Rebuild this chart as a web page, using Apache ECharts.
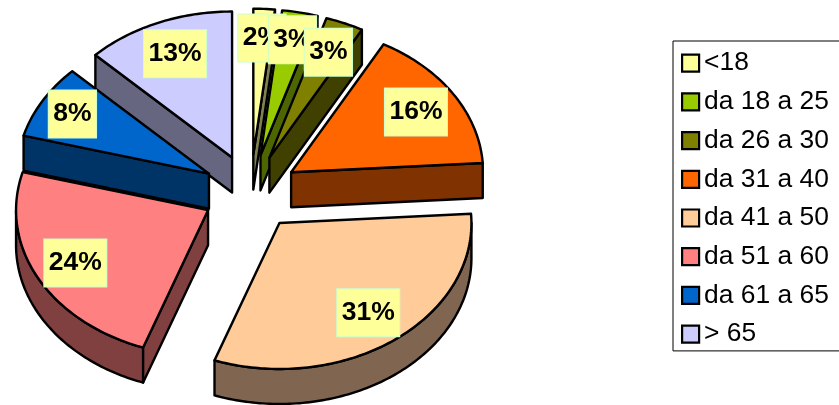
<!DOCTYPE html>
<html><head><meta charset="utf-8">
<style>html,body{margin:0;padding:0;background:#fff}#c{width:839px;height:405px}</style>
<script src="https://cdn.jsdelivr.net/npm/echarts@6/dist/echarts.min.js"></script>
</head><body><div id="c"></div>
<script>
const categories = ['<18','da 18 a 25','da 26 a 30','da 31 a 40','da 41 a 50','da 51 a 60','da 61 a 65','> 65'];
const values = [1.8,3.0,3.2,16.0,31.49,23.7,8.2,12.61];
const topColors = ['#FFFF99','#99CC00','#808000','#FF6600','#FFCC99','#FF8080','#0066CC','#CCCCFF'];
const sideColors = ['#808050','#4D6600','#404000','#803300','#806650','#804040','#003366','#666680'];
const paintOrder = [0,1,2,7,6,3,5,4];
const labelRadius = [0.80,0.81,0.785,0.77,0.77,0.78,0.82,0.77];

const CX=250.6, CY=192.6, RX=192, RY=146, EX=48, EY=38, DEPTH=35;
const total = values.reduce((a,b)=>a+b,0);
const starts=[]; let acc=0;
values.forEach(v=>{starts.push(acc/total*360); acc+=v;});
const rad=d=>d*Math.PI/180;
function geom(i){
  const a0=starts[i], a1=a0+values[i]/total*360, mid=(a0+a1)/2;
  const ax=CX+EX*Math.sin(rad(mid)), ay=CY-EY*Math.cos(rad(mid));
  const rim=d=>[ax+RX*Math.sin(rad(d)), ay-RY*Math.cos(rad(d))];
  return {a0,a1,mid,ax,ay,rim};
}
const LW=2.4;
function poly(points,fill){
  return {type:'polygon',shape:{points},style:{fill,stroke:'#000',lineWidth:LW,lineJoin:'round'},silent:true};
}
function sliceRender(i){
  return function(){
    const g=geom(i), ch=[], down=p=>[p[0],p[1]+DEPTH];
    const apex=[g.ax,g.ay];
    const arcFrom=Math.max(g.a0,90), arcTo=Math.min(g.a1,270);
    if(arcTo>arcFrom){
      const up=[],lo=[];
      for(let d=arcFrom;d<arcTo;d+=1){up.push(g.rim(d));}
      up.push(g.rim(arcTo));
      up.forEach(p=>lo.unshift(down(p)));
      ch.push(poly(up.concat(lo),sideColors[i]));
    }
    if(Math.sin(rad(g.a1))>0){const r=g.rim(g.a1);ch.push(poly([apex,r,down(r),down(apex)],sideColors[i]));}
    if(Math.sin(rad(g.a0))<0){const r=g.rim(g.a0);ch.push(poly([apex,r,down(r),down(apex)],sideColors[i]));}
    const pts=[apex];
    for(let d=g.a0;d<g.a1;d+=1)pts.push(g.rim(d));
    pts.push(g.rim(g.a1));
    ch.push(poly(pts,topColors[i]));
    return {type:'group',children:ch};
  };
}
function labelRender(params,api){
  const i=api.value(0), g=geom(i), R=labelRadius[i];
  const x=g.ax+R*RX*Math.sin(rad(g.mid)), y=g.ay-R*RY*Math.cos(rad(g.mid));
  return {type:'text',x,y,silent:true,style:{
    text:Math.round(values[i])+'%',font:'bold 26.5px "Liberation Sans"',fill:'#000',
    align:'center',verticalAlign:'middle',backgroundColor:'#FFFF99',borderColor:'#CCFFCC',borderWidth:1,
    padding:[10,4.5,10,4.5]}};
}
const series=categories.map((name,i)=>({
  type:'custom',name,coordinateSystem:'none',data:[[values[i]]],
  z:2+paintOrder.indexOf(i),silent:true,animation:false,
  itemStyle:{color:topColors[i]},renderItem:sliceRender(i)
}));
series.push({type:'custom',name:'labels',coordinateSystem:'none',z:20,silent:true,animation:false,
  data:values.map((v,i)=>[i]),renderItem:labelRender});
const chart=echarts.init(document.getElementById('c'),null,{renderer:'canvas'});
chart.setOption({
  animation:false,backgroundColor:'#fff',
  legend:{data:categories,orient:'vertical',left:673,top:41,itemWidth:17,itemHeight:17,itemGap:12.7,
    icon:'rect',selectedMode:false,padding:[9.2,40,3.8,8],borderColor:'#000',borderWidth:1,
    itemStyle:{borderColor:'#000',borderWidth:2.2},
    textStyle:{color:'#000',fontSize:26.4,lineHeight:26,fontFamily:'"Liberation Sans"'}},
  series
});
</script></body></html>
